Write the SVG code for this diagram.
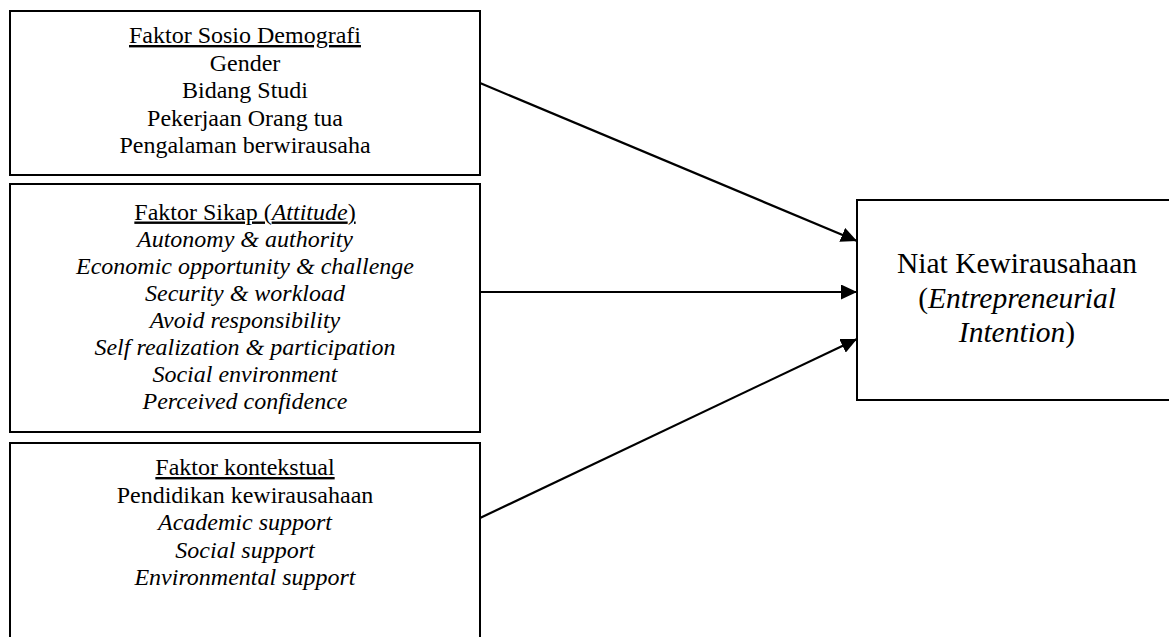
<svg xmlns="http://www.w3.org/2000/svg" width="1169" height="637" viewBox="0 0 1169 637">
  <style>
    .box { fill: #ffffff; stroke: #000000; stroke-width: 2; }
    .t { font-family: "Liberation Serif", "Times New Roman", serif; font-size: 24px; fill: #000000; text-anchor: middle; }
    .tb { font-family: "Liberation Serif", "Times New Roman", serif; font-size: 29.5px; fill: #000000; text-anchor: middle; }
    .i { font-style: italic; }
    .u { text-decoration: underline; }
    .conn { stroke: #000000; stroke-width: 2.2; fill: none; }
  </style>
  <defs>
    <marker id="arrow" markerUnits="userSpaceOnUse" markerWidth="17" markerHeight="15" refX="16" refY="7.5" orient="auto">
      <path d="M0,0 L16,7.5 L0,15 z" fill="#000000"/>
    </marker>
  </defs>
  <rect width="1169" height="637" fill="#ffffff"/>

  <g id="node-sosio">
    <rect class="box" x="10" y="11" width="470" height="164"/>
    <text class="t u" x="245" y="43">Faktor Sosio Demografi</text>
    <text class="t" x="245" y="70.5">Gender</text>
    <text class="t" x="245" y="98">Bidang Studi</text>
    <text class="t" x="245" y="125.5">Pekerjaan Orang tua</text>
    <text class="t" x="245" y="153">Pengalaman berwirausaha</text>
  </g>

  <g id="node-sikap">
    <rect class="box" x="10" y="184" width="470" height="248"/>
    <text class="t u" x="245" y="219.5">Faktor Sikap (<tspan class="i">Attitude</tspan>)</text>
    <text class="t i" x="245" y="246.5">Autonomy &amp; authority</text>
    <text class="t i" x="245" y="273.5">Economic opportunity &amp; challenge</text>
    <text class="t i" x="245" y="300.5">Security &amp; workload</text>
    <text class="t i" x="245" y="327.5">Avoid responsibility</text>
    <text class="t i" x="245" y="354.5">Self realization &amp; participation</text>
    <text class="t i" x="245" y="381.5">Social environment</text>
    <text class="t i" x="245" y="408.5">Perceived confidence</text>
  </g>

  <g id="node-kontekstual">
    <rect class="box" x="10" y="443" width="470" height="210"/>
    <text class="t u" x="245" y="475">Faktor kontekstual</text>
    <text class="t" x="245" y="502.5">Pendidikan kewirausahaan</text>
    <text class="t i" x="245" y="530">Academic support</text>
    <text class="t i" x="245" y="557.5">Social support</text>
    <text class="t i" x="245" y="585">Environmental support</text>
  </g>

  <g id="node-niat">
    <rect class="box" x="857" y="200" width="330" height="200"/>
    <text class="tb" x="1017" y="273">Niat Kewirausahaan</text>
    <text class="tb" x="1017" y="307.5">(<tspan class="i">Entrepreneurial</tspan></text>
    <text class="tb" x="1017" y="342"><tspan class="i">Intention</tspan>)</text>
  </g>

  <g id="connectors">
    <line class="conn" x1="480" y1="83" x2="857" y2="241" marker-end="url(#arrow)"/>
    <line class="conn" x1="480" y1="292" x2="857" y2="292" marker-end="url(#arrow)"/>
    <line class="conn" x1="480" y1="518" x2="857" y2="339" marker-end="url(#arrow)"/>
  </g>
</svg>
